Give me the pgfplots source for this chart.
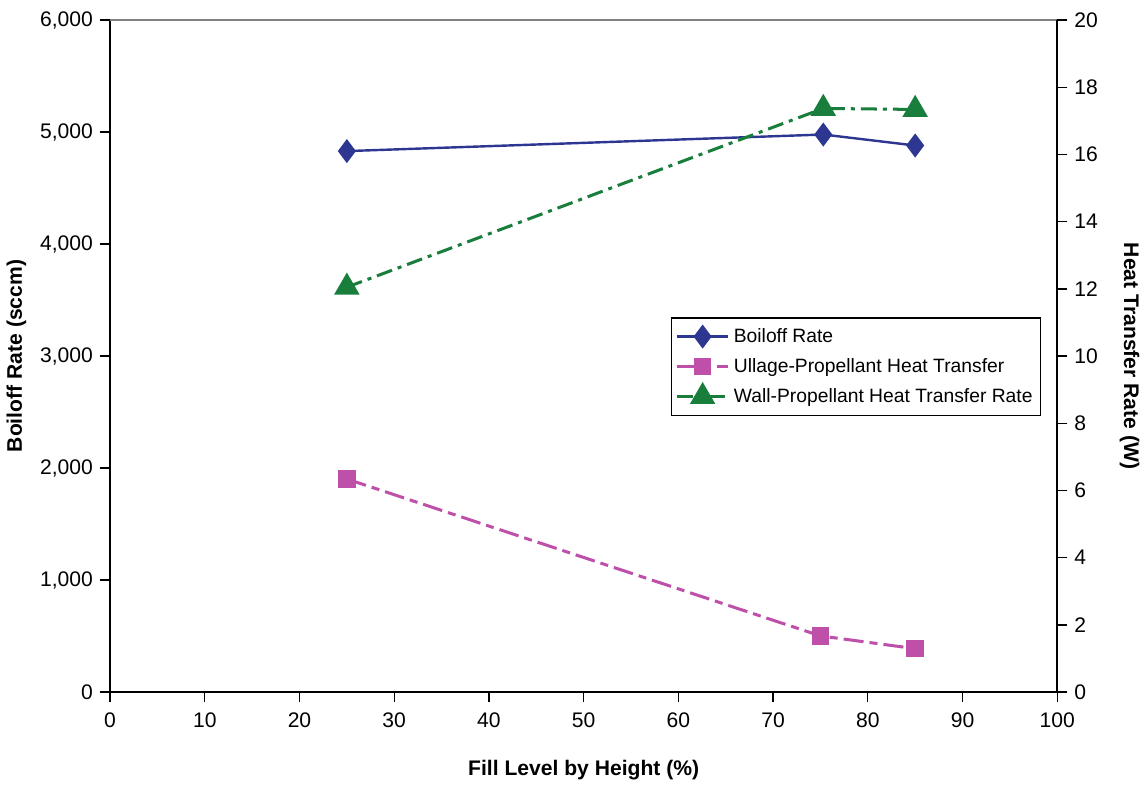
\documentclass[border=0pt]{standalone}
\usepackage{pgfplots}
\pgfplotsset{compat=1.18}
\usepackage{fontspec}
\setmainfont{Liberation Sans}
\definecolor{cblue}{RGB}{45,55,145}
\definecolor{cpink}{RGB}{190,80,170}
\definecolor{cgreen}{RGB}{25,125,60}
\begin{document}
\begin{tikzpicture}
\pgfplotsset{
  every axis/.append style={
    scale only axis, width=471.5pt, height=334.5pt,
    xmin=0, xmax=100,
    font=\fontsize{10.5}{12}\selectfont,
    tick label style={font=\fontsize{10.5}{12}\selectfont},
    label style={font=\fontsize{10.5}{12}\selectfont\bfseries},
    /pgf/number format/assume math mode=true,
    /pgf/number format/1000 sep={,},
    tick align=outside, major tick length=5pt,
    axis line style={-, line width=0.9pt},
    every tick/.style={black, line width=0.7pt},
  }
}
\begin{axis}[
  clip=false,
  axis x line*=bottom, axis y line*=left,
  ymin=0, ymax=6000,
  xtick={0,10,...,100},
  ytick={0,1000,...,6000},
  xlabel={Fill Level by Height (\%)},
  ylabel={Boiloff Rate (sccm)},
  xlabel style={yshift=-9pt},
  ylabel style={yshift=0pt},
  xticklabel style={yshift=-2pt},
  scaled y ticks=false,
]
\draw[gray, line width=1pt] (rel axis cs:0,1) -- (rel axis cs:1,1);
\path (rel axis cs:0,1) -- ++(0,10pt);
\addplot[cblue, line width=1.2pt, mark=diamond*, mark size=5pt, mark options={solid, fill=cblue}]
  coordinates {(25,4830) (75.3,4978) (85,4880)};
\end{axis}
\begin{axis}[
  axis x line=none, axis y line*=right,
  ymin=0, ymax=20,
  ytick={0,2,...,20},
  ylabel={Heat Transfer Rate (W)},
  ylabel style={rotate=180, yshift=4pt},
  legend style={at={(0.592,0.5575)}, anchor=north west, draw=black, line width=0.6pt,
    font=\fontsize{9.6}{12}\selectfont, row sep=2.5pt, inner xsep=2pt, inner ysep=3pt},
  legend cell align=left,
  legend image code/.code={\draw[mark repeat=2,mark phase=2] plot coordinates {(0cm,0cm) (0.45cm,0cm) (0.9cm,0cm)};},
]
\addlegendimage{cblue, line width=1.2pt, mark=diamond*, mark size=5pt, mark options={solid, fill=cblue}}
\addlegendentry{Boiloff Rate}
\addplot[cpink, line width=1.5pt, dash pattern=on 10pt off 3pt on 4pt off 3pt, mark=square*, mark size=3.6pt, mark options={solid, fill=cpink}]
  coordinates {(25,6.34) (75,1.67) (85,1.29)};
\addlegendentry{Ullage-Propellant Heat Transfer}
\addplot[cgreen, line width=1.5pt, dash pattern=on 8pt off 3pt on 2pt off 3pt, mark=triangle*, mark size=5.8pt, mark options={solid, fill=cgreen}]
  coordinates {(25,12.05) (75.3,17.37) (85,17.34)};
\addlegendentry{Wall-Propellant Heat Transfer Rate}
\end{axis}
\end{tikzpicture}
\end{document}
